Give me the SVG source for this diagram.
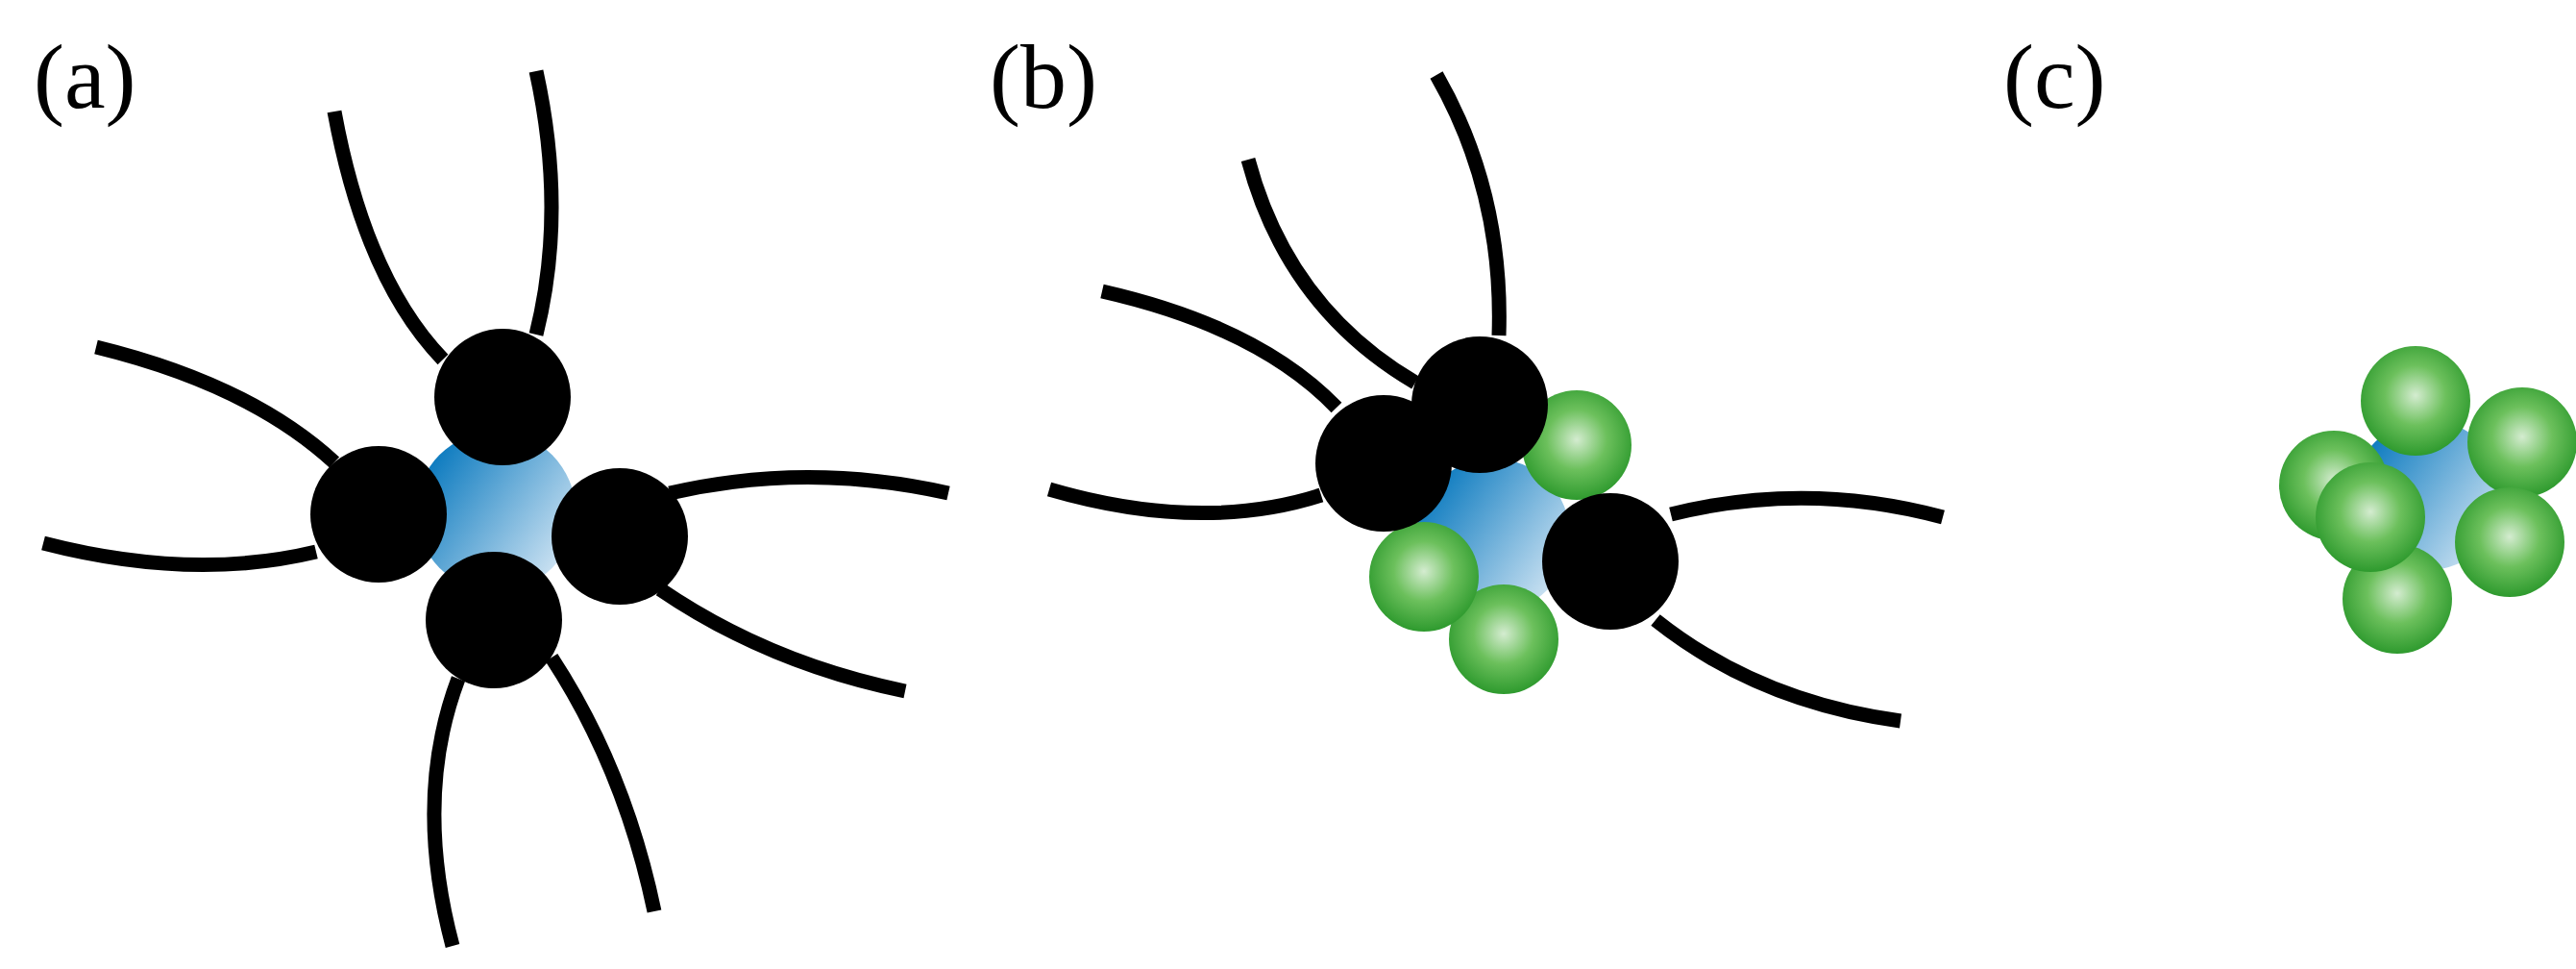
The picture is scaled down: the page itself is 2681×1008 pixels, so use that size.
<svg xmlns="http://www.w3.org/2000/svg" width="2681" height="1008" viewBox="0 0 2681 1008">
<style>
.s{fill:none;stroke:#000;stroke-width:15}
.k{fill:#000}
.b{fill:url(#gb)}
.g{fill:url(#gg)}
.t{font-family:"Liberation Serif",serif;font-size:96px;fill:#000}
</style>
<defs>
<linearGradient id="gb" x1="0" y1="0.2" x2="1" y2="0.9">
<stop offset="0" stop-color="#0074bc"/>
<stop offset="1" stop-color="#e2eef8"/>
</linearGradient>
<radialGradient id="gg" cx="0.5" cy="0.45" r="0.55">
<stop offset="0" stop-color="#d4ecd0"/>
<stop offset="0.5" stop-color="#6cc05c"/>
<stop offset="1" stop-color="#2e9a2e"/>
</radialGradient>
</defs>
<text class="t" x="35" y="112">(a)</text>
<text class="t" x="1030" y="112">(b)</text>
<text class="t" x="2085" y="112">(c)</text>
<g id="connectors">
<path class="s" d="M348,116 Q380,290 461,374"/>
<path class="s" d="M558,74 Q590,220 558,348"/>
<path class="s" d="M100,361 Q260,400 348,481"/>
<path class="s" d="M45,565 Q200,605 329,574"/>
<path class="s" d="M697,513 Q840,480 987,513"/>
<path class="s" d="M687,613 Q800,690 942,719"/>
<path class="s" d="M477,706 Q430,830 471,984"/>
<path class="s" d="M574,684 Q650,800 681,948"/>
<path class="s" d="M1495,78 Q1565,200 1560,349"/>
<path class="s" d="M1299,166 Q1340,320 1473,398"/>
<path class="s" d="M1147,303 Q1310,340 1391,424"/>
<path class="s" d="M1092,509 Q1250,555 1375,515"/>
<path class="s" d="M1739,535 Q1880,500 2022,538"/>
<path class="s" d="M1723,645 Q1830,730 1978,750"/>
</g>
<g id="a">
<circle class="b" cx="516" cy="532" r="83"/>
<circle class="k" cx="394" cy="535" r="71"/>
<circle class="k" cx="645" cy="558" r="71"/>
<circle class="k" cx="523" cy="413" r="71"/>
<circle class="k" cx="514" cy="645" r="71"/>
</g>
<g id="b">
<circle class="b" cx="1554" cy="557" r="80"/>
<circle class="g" cx="1565" cy="665" r="57"/>
<circle class="g" cx="1641" cy="463" r="57"/>
<circle class="g" cx="1482" cy="600" r="57"/>
<circle class="k" cx="1440" cy="482" r="71"/>
<circle class="k" cx="1540" cy="421" r="71"/>
<circle class="k" cx="1676" cy="584" r="71"/>
</g>
<g id="c">
<circle class="b" cx="2527" cy="515" r="78"/>
<circle class="g" cx="2495" cy="623" r="57"/>
<circle class="g" cx="2429" cy="505" r="57"/>
<circle class="g" cx="2625" cy="460" r="57"/>
<circle class="g" cx="2514" cy="417" r="57"/>
<circle class="g" cx="2612" cy="564" r="57"/>
<circle class="g" cx="2467" cy="538" r="57"/>
</g>
</svg>
